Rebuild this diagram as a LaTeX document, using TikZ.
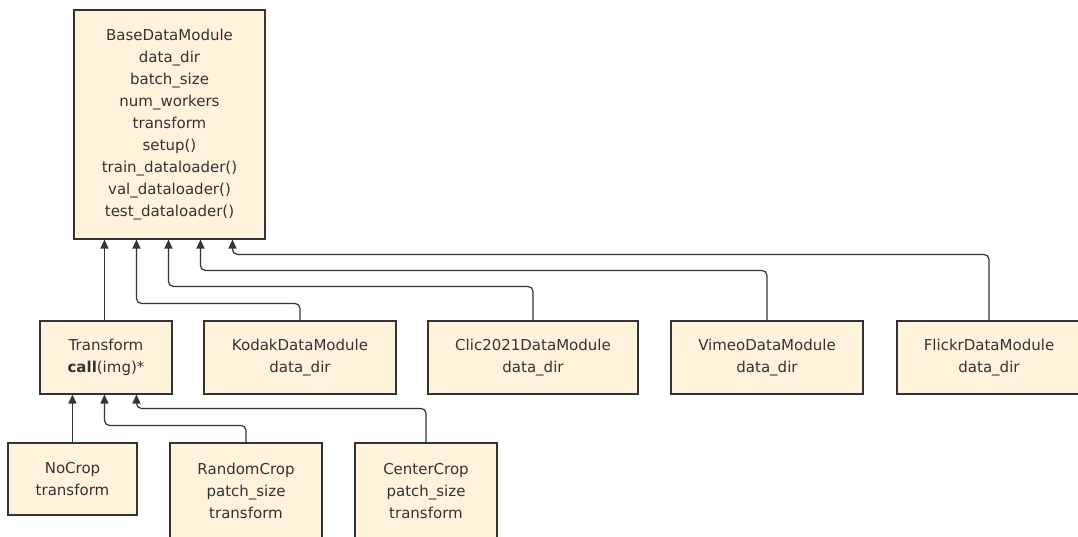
\documentclass[tikz,border=0pt]{standalone}
\usepackage{fontspec}
\setmainfont{DejaVu Sans}
\usetikzlibrary{arrows.meta,calc}
\definecolor{boxfill}{HTML}{FFF3DC}
\definecolor{boxline}{HTML}{333333}
\definecolor{txt}{HTML}{333333}
\tikzset{
  cls/.style={draw=boxline, fill=boxfill, line width=1.1pt, text=txt, align=center,
    inner sep=0pt, font=\fontsize{15}{22}\selectfont},
  conn/.style={draw=boxline, line width=1.2pt, rounded corners=5pt,
    -{Triangle[length=9pt,width=8pt]}}
}
\begin{document}
\begin{tikzpicture}[x=1pt,y=-1pt]
\useasboundingbox (0,0) rectangle (1078,537);
\node[cls, minimum width=191pt, minimum height=229pt] (base) at (169.5,124.5)
  {BaseDataModule\\data\_dir\\batch\_size\\num\_workers\\transform\\setup()\\train\_dataloader()\\val\_dataloader()\\test\_dataloader()};
\node[cls, minimum width=132pt, minimum height=73pt] (transform) at (106,357.5)
  {Transform\\\textbf{call}(img)*};
\node[cls, minimum width=192pt, minimum height=73pt] (kodak) at (300,357.5)
  {KodakDataModule\\data\_dir};
\node[cls, minimum width=210pt, minimum height=73pt] (clic) at (533,357.5)
  {Clic2021DataModule\\data\_dir};
\node[cls, minimum width=192pt, minimum height=73pt] (vimeo) at (767,357.5)
  {VimeoDataModule\\data\_dir};
\node[cls, minimum width=184pt, minimum height=73pt] (flickr) at (989,357.5)
  {FlickrDataModule\\data\_dir};
\node[cls, minimum width=129pt, minimum height=72pt] (nocrop) at (72.5,479)
  {NoCrop\\transform};
\node[cls, minimum width=152pt, minimum height=96pt] (random) at (246,491)
  {RandomCrop\\patch\_size\\transform};
\node[cls, minimum width=142pt, minimum height=96pt] (center) at (426,491)
  {CenterCrop\\patch\_size\\transform};
% attachment points
\coordinate (b1) at ([xshift=31pt]base.south west);
\coordinate (b2) at ([xshift=63pt]base.south west);
\coordinate (b3) at ([xshift=95pt]base.south west);
\coordinate (b4) at ([xshift=127pt]base.south west);
\coordinate (b5) at ([xshift=159pt]base.south west);
\coordinate (t1) at ([xshift=33pt]transform.south west);
\coordinate (t2) at ([xshift=65pt]transform.south west);
\coordinate (t3) at ([xshift=97pt]transform.south west);
% connectors
\draw[conn] (transform.north -| b1) -- (b1);
\draw[conn] (kodak.north) -- ++(0,-17) -| (b2);
\draw[conn] (clic.north) -- ++(0,-34) -| (b3);
\draw[conn] (vimeo.north) -- ++(0,-50) -| (b4);
\draw[conn] (flickr.north) -- ++(0,-66) -| (b5);
\draw[conn] (nocrop.north -| t1) -- (t1);
\draw[conn] (random.north) -- ++(0,-17) -| (t2);
\draw[conn] (center.north) -- ++(0,-34) -| (t3);
\end{tikzpicture}
\end{document}
